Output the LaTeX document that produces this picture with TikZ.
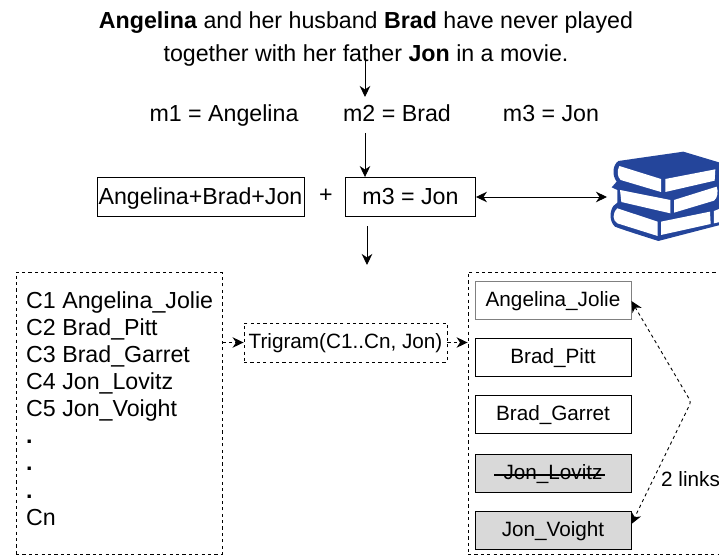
\documentclass[tikz,border=0pt]{standalone}
\usepackage{fontspec}
\setmainfont{Liberation Sans}
\usetikzlibrary{arrows.meta}
\definecolor{bookblue}{HTML}{24459B}
\definecolor{boxgray}{HTML}{D9D9D9}
\tikzset{
  every node/.style={font=\fontsize{23.2}{33}\selectfont,text=black,inner sep=0pt},
  small/.style={font=\fontsize{20.7}{25}\selectfont,text height=16pt,text depth=4pt},
  arr/.style={-{Stealth[length=11pt,width=10.5pt,inset=3.5pt]},line width=0.9pt},
  dblarr/.style={{Stealth[length=11pt,width=10.5pt,inset=3.5pt]}-{Stealth[length=11pt,width=10.5pt,inset=3.5pt]},line width=0.9pt},
  dashbox/.style={draw,line width=0.9pt,dash pattern=on 3.2pt off 3.2pt},
  box/.style={draw,line width=0.9pt,small,minimum width=156pt,minimum height=38pt},
  topbox/.style={draw,line width=0.9pt,text height=18pt,text depth=3pt,minimum height=39pt},
  cand/.style={anchor=base west},
  men/.style={anchor=base}
}
\begin{document}
\begin{tikzpicture}[x=1pt,y=-1pt]
  \useasboundingbox (0,0) rectangle (719,556);
  \clip (0,0) rectangle (719,556);

  \node[align=center] (Ti) at (366,39) {\textbf{Angelina} and her husband \textbf{Brad} have never played\\together with her father \textbf{Jon} in a movie.};

  \node[men] (MeA) at (224,122) {m1 = Angelina};
  \node[men] (MeB) at (397,122) {m2 = Brad};
  \node[men] (MeC) at (551,122) {m3 = Jon};

  \node[topbox,minimum width=207pt] (Qu) at (200.5,197) {Angelina+Brad+Jon};
  \node (Pl) at (326,196) {+};
  \node[topbox,minimum width=130pt] (Me) at (410.5,197) {m3 = Jon};

  \coordinate (TiA) at (365,58);
  \coordinate (TiB) at (365,97);
  \coordinate (MeBot) at (365,133);
  \coordinate (DoA) at (367,226);
  \coordinate (DoB) at (367,265);
  \coordinate (Bk) at (607,197);
  \draw[arr] (TiA) to (TiB);
  \draw[arr] (MeBot) to (Me.north -| MeBot);
  \draw[arr] (DoA) to (DoB);
  \draw[dblarr] (Me) to (Bk);

  % books
  \begin{scope}[shift={(560,130)},scale=0.3333]
    \fill[bookblue] (175,93) -- (370,65) -- (480,98) -- (480,285) -- (295,333)
      .. controls (230,312) and (190,300) .. (165,290)
      .. controls (148,275) and (148,245) .. (160,228) -- (172,218) -- (172,180)
      -- (155,172) -- (170,155)
      .. controls (155,135) and (158,105) .. (175,93) -- cycle;
    \fill[white] (178,108) .. controls (170,125) and (172,140) .. (182,150) -- (303,186) -- (303,147) -- cycle;
    \fill[white] (316,147) -- (466,118) -- (464,152) -- (316,186) -- cycle;
    \fill[white] (180,180) -- (184,216) -- (331,250) -- (331,210) -- cycle;
    \fill[white] (342,210) -- (470,170) .. controls (476,185) and (472,205) .. (462,212) -- (342,248) -- cycle;
    \fill[white] (172,235) .. controls (156,250) and (158,272) .. (172,280) -- (293,318) -- (293,275) -- cycle;
    \fill[white] (303,275) -- (450,245) -- (452,282) -- (303,315) -- cycle;
    \fill[white] (462,243) -- (480,236) -- (480,276) -- (462,280) -- cycle;
  \end{scope}

  % candidates
  \node[dashbox,minimum width=206pt,minimum height=282pt] (CaBo) at (119,413) {};
  \node[cand] (CaA) at (26,308) {C1 Angelina\_Jolie};
  \node[cand] (CaB) at (26,335) {C2 Brad\_Pitt};
  \node[cand] (CaC) at (26,362) {C3 Brad\_Garret};
  \node[cand] (CaD) at (26,389) {C4 Jon\_Lovitz};
  \node[cand] (CaE) at (26,416) {C5 Jon\_Voight};
  \node[cand] (PtA) at (26,443) {\textbf{.}};
  \node[cand] (PtB) at (26,470) {\textbf{.}};
  \node[cand] (PtC) at (26,498) {\textbf{.}};
  \node[cand] (CaN) at (26,525) {Cn};

  \node[dashbox,small,minimum width=203pt,minimum height=39pt] (Tr) at (345.5,342.5) {Trigram(C1..Cn, Jon)};

  % linked entities
  \node[dashbox,minimum width=290pt,minimum height=282pt] (EnBo) at (613,413) {};
  \node[box,draw=gray] (AnJo) at (553,300) {Angelina\_Jolie};
  \node[box] (BrPi) at (553,357) {Brad\_Pitt};
  \node[box] (BrGa) at (553,414) {Brad\_Garret};
  \node[box,fill=boxgray] (JoLo) at (553,473) {};
  \node[small] (JoLoTx) at (553,473) {Jon\_Lovitz};
  \draw[line width=1.4pt] ([xshift=-9pt,yshift=-2pt]JoLoTx.west) to ([xshift=2pt,yshift=-2pt]JoLoTx.east);
  \node[box,fill=boxgray] (JoVo) at (553,530) {Jon\_Voight};

  \draw[arr,dash pattern=on 3.2pt off 3.2pt] (CaBo.east |- Tr) to (Tr);
  \draw[arr,dash pattern=on 3.2pt off 3.2pt] (Tr) to (EnBo.west |- Tr);

  \coordinate (Co) at (691,402);
  \draw[dblarr,dash pattern=on 3.2pt off 3.2pt,rounded corners=3pt] ([yshift=-1pt]AnJo.east) to (Co) to ([yshift=6pt]JoVo.east);
  \node[small,anchor=west] (Li) at (661,480) {2 links};
\end{tikzpicture}
\end{document}
